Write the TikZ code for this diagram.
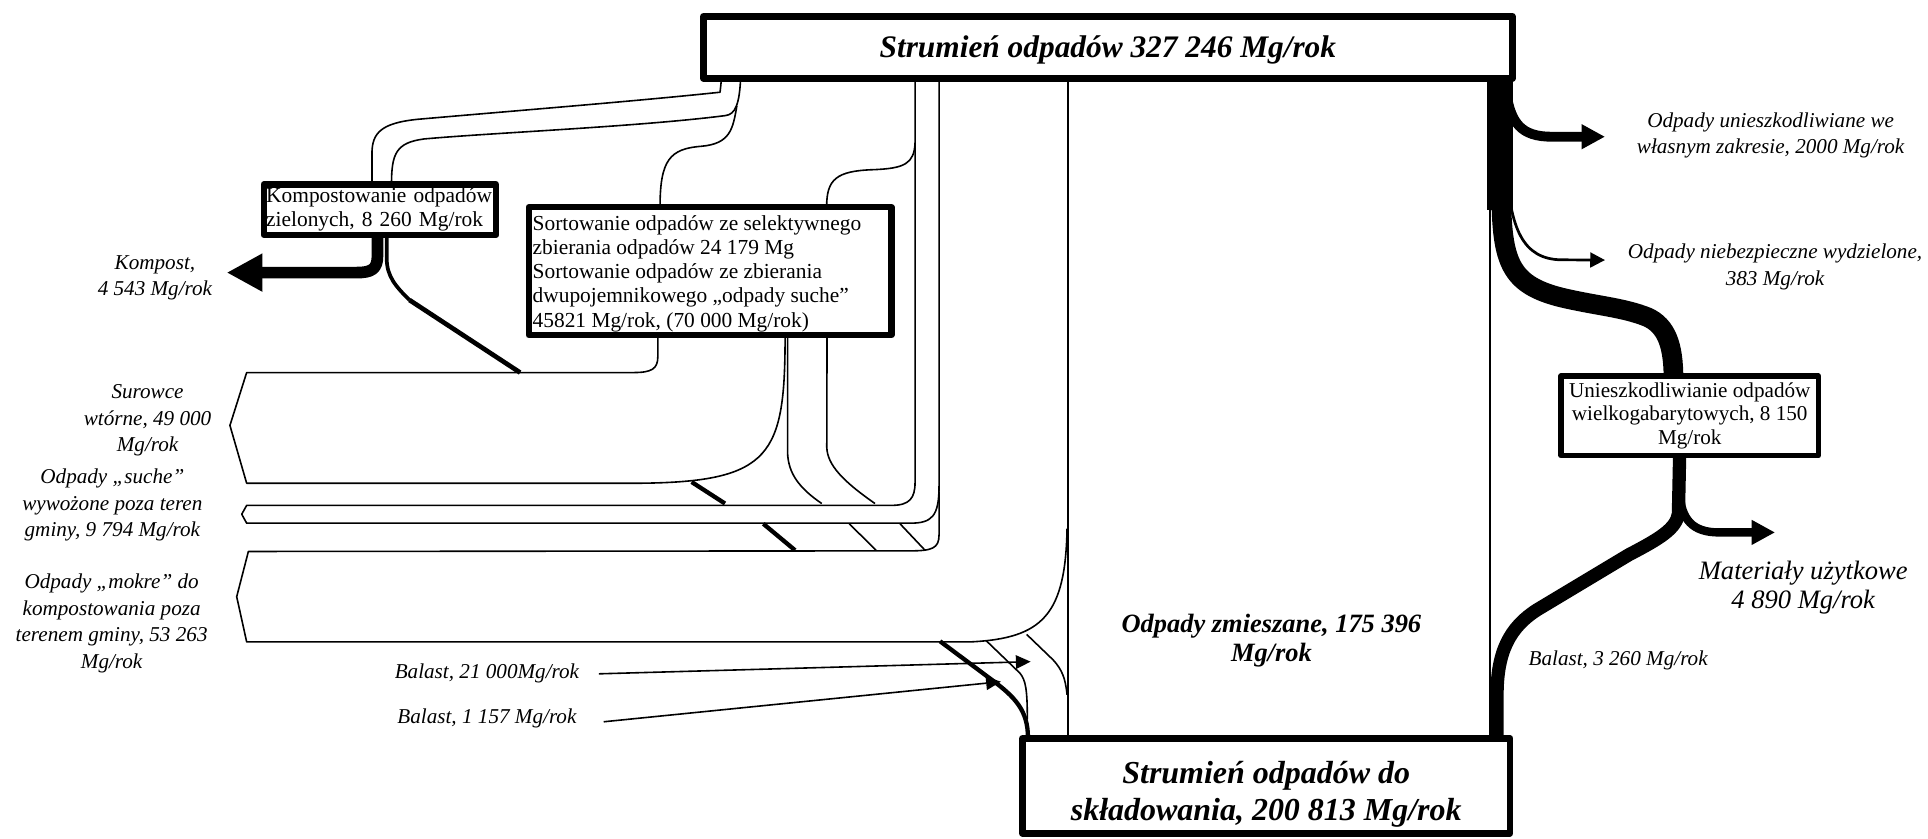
\documentclass[tikz,border=0pt]{standalone}
\usepackage{fontspec}
\setmainfont{Liberation Serif}
\usetikzlibrary{arrows.meta}
\begin{document}
\begin{tikzpicture}[x=1pt,y=-1pt,line join=round,
  flow/.style={line width=1.3pt},
  heavy/.style={line width=3.5pt},
  lab/.style={font=\fontsize{17.2pt}{21.5pt}\selectfont\itshape, align=center, inner sep=0pt},
  thinarrow/.style={line width=1.3pt, -{Triangle[length=12pt,width=11pt]}},
  boxed/.style={draw, fill=white, inner ysep=0pt}
]
\useasboundingbox (0,0) rectangle (1568,682);

% ---- left flows from the main stream
\draw[flow] (587,62) -- (585.6,75) .. controls (520,82) and (420,90) .. (340,97)
  .. controls (310,100) and (302.5,108) .. (302.5,125) -- (302.5,150);
\draw[flow] (602.4,62) .. controls (601.5,85) and (598,93) .. (590,94)
  .. controls (520,103) and (400,108) .. (345,113)
  .. controls (322,116) and (318.4,125) .. (318.4,150);
\draw[flow] (599.3,86) .. controls (596,105) and (594,117) .. (570,119)
  .. controls (545,121) and (536.8,130) .. (536.8,168);
\draw[flow] (744.2,116) .. controls (743.5,133) and (736,137) .. (710,138)
  .. controls (680,139) and (672.3,146) .. (672.3,168);

% suche band
\draw[flow] (744.2,62) -- (744.2,392) .. controls (744.2,405) and (740,411) .. (725,411)
  -- (200.6,411) -- (196.6,418.2) -- (200.6,425.5) -- (740,425.5)
  .. controls (758,425.5) and (763.7,420) .. (763.7,395) -- (763.7,62);
% mokre band
\draw[flow] (763.7,400) -- (763.7,435) .. controls (763.7,446) and (758,448) .. (740,448)
  -- (202,448.5) -- (192.5,485.3) -- (200.6,522) -- (790,522)
  .. controls (848,519) and (866.5,500) .. (867.8,430);
% mixed band borders
\draw[flow] (868.5,62) -- (868.5,600);
\draw[flow] (1212,62) -- (1212,600);

% Surowce band
\draw[flow] (535,272) -- (535,290) .. controls (535,300) and (530,303) .. (515,303)
  -- (200.6,303) -- (187,346) -- (200.6,393) -- (520,393)
  .. controls (628,392) and (638.5,370) .. (638.5,272);
\draw[flow] (640.5,272) -- (640.5,368) .. controls (641,385) and (650,397) .. (668.3,409.5);
\draw[flow] (672.6,272) -- (672.4,364) .. controls (673,378) and (685,391) .. (711.6,409.5);
\draw[heavy] (562.5,392) -- (589.6,409.5);
\draw[heavy] (620.8,426) -- (646.6,447.5);
\draw[flow] (690.7,426) -- (712.5,447.5);
\draw[flow] (732,426) -- (752.3,447.5);

% compost outputs
\draw[line width=9.5pt, -{Triangle[length=29pt,width=29pt]}] (307,190) -- (307,208)
  .. controls (307,219) and (302,221.7) .. (290,221.7) -- (184.4,221.7);
\draw[line width=3pt] (314.5,190) -- (314.5,210) .. controls (314.5,225) and (322,233) .. (333,244);
\draw[line width=3.8pt] (333,244) -- (423,303);

% balast to landfill
\draw[heavy] (764.5,521.5) -- (805,551.7) .. controls (826,567) and (836,578) .. (836,600);
\draw[flow] (802,521) -- (829.5,547.5) .. controls (834,553) and (835.5,560) .. (835.5,585);
\draw[flow] (835,516) -- (856.6,536.8) .. controls (864,545) and (866.5,552) .. (867.8,565);

% right side flows
\fill (1209.6,62) rectangle (1230.2,171);
\draw[line width=8pt, -{Triangle[length=19pt,width=19pt]}] (1225,76)
  .. controls (1229,100) and (1237,111.2) .. (1262,111.2) -- (1305.3,111.2);
\draw[line width=2.2pt, -{Triangle[length=12pt,width=12pt]}] (1225.3,136)
  .. controls (1228,185) and (1238,211) .. (1270,211.3) -- (1305.3,211.5);
\draw[line width=16pt] (1221,165) .. controls (1222,215) and (1230,232) .. (1270,242)
  .. controls (1300,249) and (1320,250) .. (1340,258)
  .. controls (1355,265) and (1361,280) .. (1361,308);
\draw[line width=10.8pt] (1366,370) -- (1365,418) .. controls (1363,430) and (1350,438) .. (1325,451)
  -- (1250,496) .. controls (1228,510) and (1217.5,530) .. (1217.5,565) -- (1217.5,600);
\draw[line width=6.8pt, -{Triangle[length=19pt,width=19pt]}] (1366,400)
  .. controls (1367,423) and (1377,433) .. (1398,433) -- (1443.6,433);

% ---- boxes
\node[boxed, line width=5.5pt, minimum width=657.8pt, minimum height=50.4pt, inner xsep=0pt] (top) at (901,38.5) {};
\node[inner sep=0pt, font=\fontsize{25.5pt}{30pt}\selectfont\bfseries\itshape] (toptext) at (901,41)
  {Strumień odpadów 327 246 Mg/rok};
\node[boxed, line width=5.5pt, minimum width=396.5pt, minimum height=77.1pt, inner xsep=0pt] (bot) at (1029.8,639.1) {};
\node[inner sep=0pt, align=center, font=\fontsize{26pt}{30pt}\selectfont\bfseries\itshape] (bottext) at (1029.8,646)
  {Strumień odpadów do\\składowania, 200 813 Mg/rok};
\node[boxed, line width=5pt, minimum width=189pt, minimum height=41pt, inner xsep=2pt,
  text width=185pt, align=left, font=\fontsize{17.4pt}{19.5pt}\selectfont] (komp) at (309,170.5)
  {\makebox[185pt][l]{Kompostowanie odpadów}\\\makebox[185pt][l]{zielonych, 8 260 Mg/rok}};
\node[boxed, line width=5pt, minimum width=295.1pt, minimum height=104pt] (sort) at (577.5,220.5) {};
\node[inner sep=0pt, anchor=west, align=left, font=\fontsize{17.4pt}{19.7pt}\selectfont] (sorttext) at (433,222.5)
  {Sortowanie odpadów ze selektywnego\\zbierania odpadów 24 179 Mg\\Sortowanie odpadów ze zbierania\\dwupojemnikowego „odpady suche”\\45821 Mg/rok, (70 000 Mg/rok)};
\node[boxed, line width=4.5pt, minimum width=209.1pt, minimum height=64.6pt, inner xsep=0pt,
  align=center, font=\fontsize{17.2pt}{19pt}\selectfont] (unie) at (1374.2,338.2)
  {Unieszkodliwianie odpadów\\wielkogabarytowych, 8 150\\Mg/rok};

% ---- labels
\node[lab] (lkompost) at (126,226) {Kompost,\\4 543 Mg/rok};
\node[lab] (lsurowce) at (120,342) {Surowce\\wtórne, 49 000\\Mg/rok};
\node[lab] (lsuche) at (91.4,411) {Odpady „suche”\\wywożone poza teren\\gminy, 9 794 Mg/rok};
\node[lab] (lmokre) at (90.8,507) {Odpady „mokre” do\\kompostowania poza\\terenem gminy, 53 263\\Mg/rok};
\node[lab] (lwlasne) at (1440,110) {Odpady unieszkodliwiane we\\własnym zakresie, 2000 Mg/rok};
\node[lab] (lniebezp) at (1443.6,217) {Odpady niebezpieczne wydzielone,\\383 Mg/rok};
\node[lab, font=\fontsize{21.6pt}{24pt}\selectfont\itshape] (lmat) at (1466.5,478) {Materiały użytkowe\\4 890 Mg/rok};
\node[lab] (lb3260) at (1316,537) {Balast, 3 260 Mg/rok};
\node[lab, font=\fontsize{21.5pt}{24pt}\selectfont\bfseries\itshape] (lmix) at (1034,521) {Odpady zmieszane, 175 396\\Mg/rok};
\node[lab] (lb21) at (396,548) {Balast, 21 000Mg/rok};
\node[lab] (lb1157) at (396,584) {Balast, 1 157 Mg/rok};

\coordinate (t21) at (838.2,538.1);
\coordinate (t1157) at (814,554.4);
\draw[thinarrow] ([xshift=16pt]lb21.east) -- (t21);
\draw[thinarrow] ([shift={(22,3)}]lb1157.east) -- (t1157);
\end{tikzpicture}
\end{document}
